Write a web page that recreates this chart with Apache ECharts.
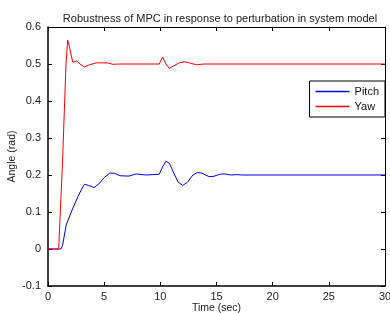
<!DOCTYPE html>
<html>
<head>
<meta charset="utf-8">
<script src="https://cdn.jsdelivr.net/npm/echarts@6/dist/echarts.min.js"></script>
<style>
  html, body { margin: 0; padding: 0; background: #fff; }
  #chart { width: 390px; height: 313px; }
</style>
</head>
<body>
<div id="chart"></div>
<script>
// time (sec) and angle (rad)
var pitchT = [0, 1.15, 1.3, 1.62, 2.07, 2.65, 3.0, 3.25, 3.6, 4.1, 4.5, 5.0, 5.5, 5.9, 6.4, 7.2, 7.85, 8.7, 9.9, 10.2, 10.5, 10.8, 11.2, 11.6, 12.0, 12.4, 12.9, 13.3, 13.7, 14.3, 14.7, 15.3, 15.7, 16.3, 16.8, 17.3, 30];
var pitchV = [0, 0, 0.01, 0.065, 0.1, 0.141, 0.162, 0.175, 0.172, 0.166, 0.175, 0.193, 0.205, 0.205, 0.198, 0.197, 0.203, 0.2, 0.202, 0.222, 0.237, 0.232, 0.205, 0.18, 0.172, 0.18, 0.2, 0.207, 0.205, 0.196, 0.196, 0.202, 0.203, 0.2, 0.201, 0.2, 0.2];
var yawT = [0, 0.95, 1.3, 1.6, 1.75, 1.95, 2.2, 2.55, 2.85, 3.25, 3.7, 4.3, 5.3, 5.8, 6.2, 9.9, 10.2, 10.5, 10.8, 11.3, 11.7, 12.15, 12.7, 13.2, 13.9, 30];
var yawV = [0, 0, 0.24, 0.5, 0.565, 0.54, 0.505, 0.508, 0.5, 0.492, 0.498, 0.503, 0.503, 0.499, 0.5, 0.5, 0.519, 0.5, 0.488, 0.497, 0.503, 0.506, 0.502, 0.498, 0.5, 0.5];
var xTicks = {min: 0, max: 30, step: 5};
var yTicks = {min: -0.1, max: 0.6, step: 0.1};

function pairs(t, v) {
    return t.map(function (x, i) { return [x, v[i]]; });
}

var chart = echarts.init(document.getElementById('chart'));
var font = 'Liberation Sans';

var option = {
    backgroundColor: '#fff',
    animation: false,
    title: {
        text: 'Robustness of MPC in response to perturbation in system model',
        left: 215,
        textAlign: 'center',
        top: 8,
        textStyle: {fontFamily: font, fontSize: 11, fontWeight: 'normal', color: '#222'}
    },
    legend: {
        orient: 'vertical',
        right: 5,
        top: 81,
        padding: [5, 6, 5, 6],
        itemGap: 4,
        itemWidth: 34,
        itemHeight: 1.5,
        icon: 'rect',
        backgroundColor: '#fff',
        borderColor: '#000',
        borderWidth: 1,
        borderRadius: 0,
        textStyle: {fontFamily: font, fontSize: 11, color: '#111'},
        data: [
            {name: 'Pitch', itemStyle: {color: '#0000ff'}},
            {name: 'Yaw', itemStyle: {color: '#ff0000'}}
        ]
    },
    grid: {left: 48, right: 5, top: 27, bottom: 27, outerBoundsMode: 'none', containLabel: false},
    xAxis: [{
        type: 'value',
        min: xTicks.min, max: xTicks.max, interval: xTicks.step,
        name: 'Time (sec)',
        nameLocation: 'middle',
        nameGap: 17,
        nameMoveOverlap: false,
        nameTextStyle: {fontFamily: font, fontSize: 10.5, color: '#222'},
        axisLine: {onZero: false, lineStyle: {color: '#000', width: 1.5}},
        axisTick: {inside: true, length: 4, lineStyle: {color: '#000'}},
        axisLabel: {fontFamily: font, fontSize: 11, color: '#222', margin: 5},
        splitLine: {show: false}
    }, {
        type: 'value', position: 'top',
        min: xTicks.min, max: xTicks.max, interval: xTicks.step,
        axisLine: {show: true, onZero: false, lineStyle: {color: '#000', width: 1}},
        axisTick: {inside: true, length: 4, lineStyle: {color: '#000'}},
        axisLabel: {show: false},
        splitLine: {show: false}
    }],
    yAxis: [{
        type: 'value',
        min: yTicks.min, max: yTicks.max, interval: yTicks.step,
        name: 'Angle (rad)',
        nameLocation: 'middle',
        nameGap: 30,
        nameMoveOverlap: false,
        nameTextStyle: {fontFamily: font, fontSize: 10.5, color: '#222'},
        axisLine: {show: true, onZero: false, lineStyle: {color: '#000', width: 1.5}},
        axisTick: {show: true, inside: true, length: 4, lineStyle: {color: '#000'}},
        axisLabel: {
            fontFamily: font, fontSize: 11, color: '#222', margin: 7,
            formatter: function (v) { return Math.abs(v) < 1e-9 ? '0' : v.toFixed(1); }
        },
        splitLine: {show: false}
    }, {
        type: 'value', position: 'right',
        min: yTicks.min, max: yTicks.max, interval: yTicks.step,
        axisLine: {show: true, onZero: false, lineStyle: {color: '#000', width: 1}},
        axisTick: {show: true, inside: true, length: 4, lineStyle: {color: '#000'}},
        axisLabel: {show: false},
        splitLine: {show: false}
    }],
    series: [
        {
            name: 'Pitch',
            type: 'line',
            data: pairs(pitchT, pitchV),
            showSymbol: false,
            symbol: 'none',
            color: '#0000ff',
            lineStyle: {width: 1, color: '#0000ff'}
        },
        {
            name: 'Yaw',
            type: 'line',
            data: pairs(yawT, yawV),
            showSymbol: false,
            symbol: 'none',
            color: '#ff0000',
            lineStyle: {width: 1, color: '#ff0000'}
        }
    ]
};

chart.setOption(option);
</script>
</body>
</html>
